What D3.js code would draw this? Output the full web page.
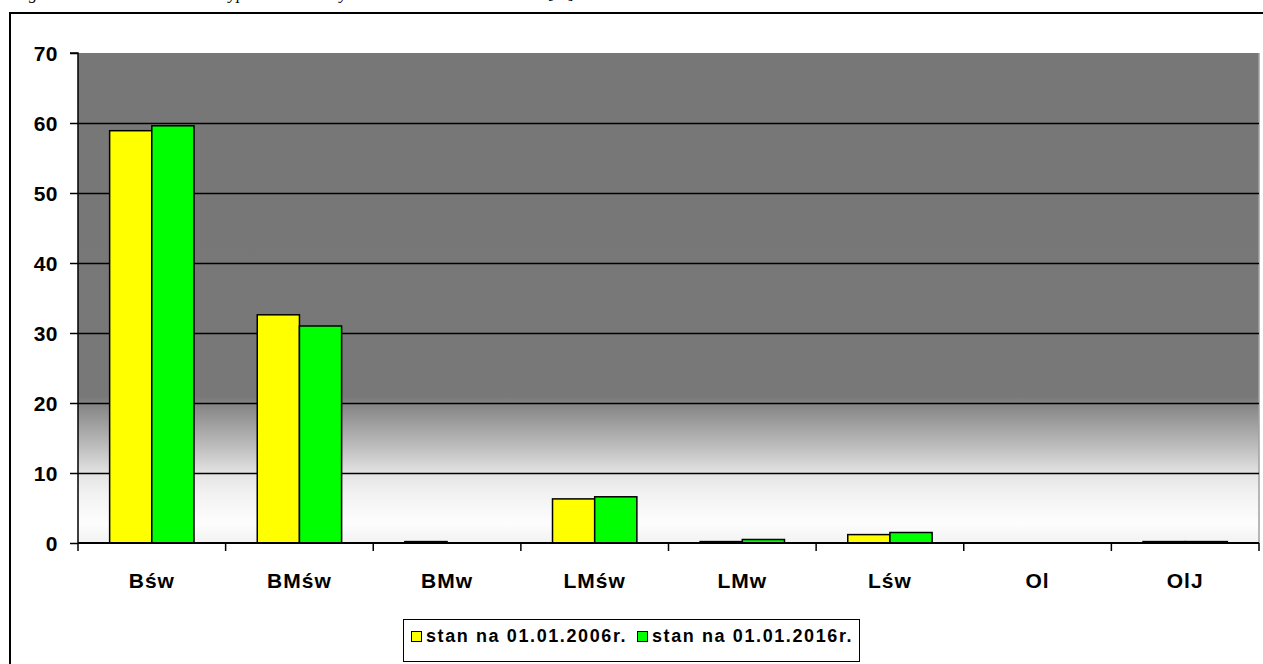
<!DOCTYPE html>
<html>
<head>
<meta charset="utf-8">
<script src="https://cdn.jsdelivr.net/npm/d3@7"></script>
<style>
  html, body { margin: 0; padding: 0; background: #ffffff; overflow: hidden; }
  svg { display: block; }
</style>
</head>
<body>
<svg id="chart" width="1263" height="664"></svg>
<script>
// ---- data ----
const categories = ["Bśw", "BMśw", "BMw", "LMśw", "LMw", "Lśw", "Ol", "OlJ"];
const seriesNames = ["stan na 01.01.2006r.", "stan na 01.01.2016r."];
const values2006 = [58.9, 32.6, 0.2, 6.3, 0.2, 1.2, 0, 0.2];
const values2016 = [59.6, 31.0, 0, 6.6, 0.5, 1.5, 0, 0.2];
const seriesColors = ["#ffff00", "#00ff00"];
const yTicks = [0, 10, 20, 30, 40, 50, 60, 70];
const titleText = "Figura 3. Porównanie udziału typów siedliskowych lasu w latach 2006 i 2016 [%]";

const svg = d3.select("#chart");
const plot = { left: 78, right: 1259, top: 53, bottom: 543 };

// title (clipped by the top edge, as in the reference)
svg.append("text")
  .attr("x", 14).attr("y", -1)
  .attr("font-family", "Liberation Serif, serif")
  .attr("font-style", "italic")
  .attr("font-size", 17)
  .attr("fill", "#000")
  .text(titleText);

// outer frame
svg.append("rect")
  .attr("x", 10).attr("y", 13)
  .attr("width", 1400).attr("height", 800)
  .attr("fill", "none").attr("stroke", "#000").attr("stroke-width", 2);

// scales
const x = d3.scaleBand().domain(categories).range([plot.left, plot.right]).paddingInner(0).paddingOuter(0);
const bw = x.bandwidth();
const barW = bw / 3.5;
const xs = d3.scaleBand().domain(seriesNames).range([bw * 0.75 / 3.5, bw * 0.75 / 3.5 + 2 * barW]);
const y = d3.scaleLinear().domain([0, 70]).range([plot.bottom, plot.top]);

// background gradient
const defs = svg.append("defs");
const grad = defs.append("linearGradient").attr("id", "bg")
  .attr("x1", 0).attr("y1", 0).attr("x2", 0).attr("y2", 1);
[[0, "#777777"], [0.70, "#787878"], [0.72, "#878787"], [0.79, "#b4b4b4"], [0.86, "#e4e4e4"],
 [0.90, "#f2f2f2"], [0.96, "#fdfdfd"], [1, "#f2f2f2"]].forEach(([o, c]) =>
  grad.append("stop").attr("offset", o).attr("stop-color", c));

svg.append("rect")
  .attr("x", plot.left).attr("y", y(70))
  .attr("width", plot.right - plot.left).attr("height", y(0) - y(70))
  .attr("fill", "url(#bg)");

// right border of plot area
svg.append("line")
  .attr("x1", plot.right).attr("x2", plot.right)
  .attr("y1", y(70)).attr("y2", y(0))
  .attr("stroke", "#a0a0a0").attr("stroke-width", 1.5);

// gridlines
svg.append("g").selectAll("line")
  .data(yTicks.filter(t => t > 0 && t < 70))
  .join("line")
  .attr("x1", plot.left).attr("x2", plot.right)
  .attr("y1", d => Math.round(y(d)) + 0.5).attr("y2", d => Math.round(y(d)) + 0.5)
  .attr("stroke", "#000").attr("stroke-width", 1.3);

// bars
const data = categories.map((c, i) => ({ cat: c, vals: [values2006[i], values2016[i]] }));
const groups = svg.append("g").selectAll("g")
  .data(data).join("g")
  .attr("transform", d => `translate(${x(d.cat)},0)`);
groups.selectAll("rect")
  .data(d => d.vals.map((v, j) => ({ v, s: seriesNames[j], j })).filter(e => e.v > 0))
  .join("rect")
  .attr("x", d => xs(d.s))
  .attr("width", xs.bandwidth())
  .attr("y", d => y(d.v))
  .attr("height", d => y(0) - y(d.v))
  .attr("fill", d => seriesColors[d.j])
  .attr("stroke", "#000").attr("stroke-width", 1.5);

// y axis
const yAxis = d3.axisLeft(y).tickValues(yTicks).tickSize(8).tickPadding(12);
const gy = svg.append("g").attr("transform", `translate(${plot.left},0)`).call(yAxis);
gy.select(".domain").attr("stroke", "#000").attr("stroke-width", 1.5).attr("d", `M-8,${y(70)}H0V${y(0)}`);
gy.selectAll(".tick line").attr("stroke", "#000").attr("stroke-width", 1.5);
gy.selectAll(".tick text")
  .attr("font-family", "Liberation Sans, Arial, sans-serif")
  .attr("font-weight", "bold").attr("font-size", 21).attr("fill", "#000")
  .attr("letter-spacing", 0.5)
  .attr("dy", "0.36em");

// x axis
const gx = svg.append("g").attr("transform", `translate(0,${plot.bottom})`);
gx.append("line")
  .attr("x1", plot.left).attr("x2", plot.right)
  .attr("stroke", "#000").attr("stroke-width", 2);
const bounds = categories.map(c => x(c)).concat([plot.right]);
gx.selectAll("line.tk").data(bounds).join("line").attr("class", "tk")
  .attr("x1", d => d).attr("x2", d => d).attr("y1", 0).attr("y2", 8)
  .attr("stroke", "#000").attr("stroke-width", 1.5);
gx.selectAll("text").data(categories).join("text")
  .attr("x", d => x(d) + bw / 2).attr("y", 45)
  .attr("text-anchor", "middle")
  .attr("font-family", "Liberation Sans, Arial, sans-serif")
  .attr("font-weight", "bold").attr("font-size", 21).attr("fill", "#000")
  .attr("letter-spacing", 1)
  .text(d => d);

// legend
const lg = svg.append("g");
lg.append("rect")
  .attr("x", 403.5).attr("y", 619.5).attr("width", 456).attr("height", 42)
  .attr("fill", "#fff").attr("stroke", "#000").attr("stroke-width", 1);
const legX = [411, 637];
seriesNames.forEach((s, i) => {
  lg.append("rect")
    .attr("x", legX[i] + 0.5).attr("y", 631.5).attr("width", 10).attr("height", 10)
    .attr("fill", seriesColors[i]).attr("stroke", "#000").attr("stroke-width", 1);
  lg.append("text")
    .attr("x", legX[i] + 15).attr("y", 642)
    .attr("font-family", "Liberation Sans, Arial, sans-serif")
    .attr("font-weight", "bold").attr("font-size", 18).attr("fill", "#000")
    .attr("letter-spacing", 1.6)
    .text(s);
});
</script>
</body>
</html>
